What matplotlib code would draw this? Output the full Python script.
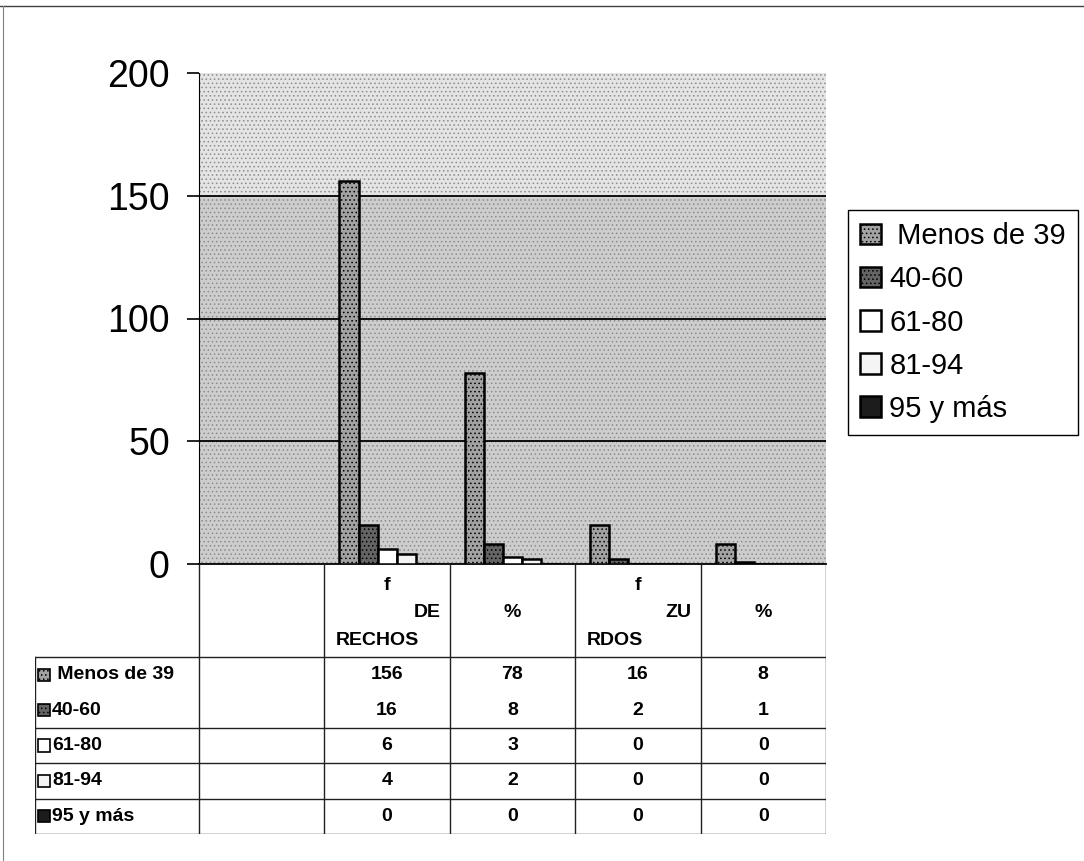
import numpy as np
import matplotlib.pyplot as plt
from matplotlib.patches import Rectangle
from matplotlib.lines import Line2D

plt.rcParams['font.family'] = ['Liberation Sans', 'DejaVu Sans']
plt.rcParams['hatch.linewidth'] = 0.6

# Data
categories = ["", "f DERECHOS", "%", "f ZURDOS", "%"]
header_parts = [None, ("f", "DE", "RECHOS"), "%", ("f", "ZU", "RDOS"), "%"]
series_names = [" Menos de 39", "40-60", "61-80", "81-94", "95 y más"]
menos_39 = [np.nan, 156, 78, 16, 8]
de_40_60 = [np.nan, 16, 8, 2, 1]
de_61_80 = [np.nan, 6, 3, 0, 0]
de_81_94 = [np.nan, 4, 2, 0, 0]
de_95_mas = [np.nan, 0, 0, 0, 0]
values = [menos_39, de_40_60, de_61_80, de_81_94, de_95_mas]
y_ticks = [0, 50, 100, 150, 200]

face_colors = ['#a2a2a2', '#646464', '#ffffff', '#f4f4f4', '#1c1c1c']
hatches = ['....', '....', None, None, None]

W, H = 1084, 861
fig = plt.figure(figsize=(W / 100, H / 100), dpi=100)


def fx(px):
    return px / W


def fy(py):
    return 1 - py / H


# Chart area
ax = fig.add_axes([fx(199), fy(564), fx(826) - fx(199), fy(73) - fy(564)])
n_cat = len(categories)
x = np.arange(n_cat)
bw = 0.152
for i, (name, vals) in enumerate(zip(series_names, values)):
    ax.bar(x + (i - 2) * bw, vals, bw, color=face_colors[i], edgecolor='black',
           linewidth=1.8, hatch=hatches[i], label=name, zorder=3)

ax.set_xlim(-0.5, n_cat - 0.5)
ax.set_ylim(0, 200)
ax.set_yticks(y_ticks)
ax.set_xticks([])
ax.tick_params(axis='y', labelsize=27, length=9, width=1.2, pad=12)
ax.set_facecolor('#cdcdcd')
ax.add_patch(Rectangle((-0.5, 0), n_cat, 200, facecolor='none', edgecolor='#8c8c8c',
                       hatch='....', linewidth=0, zorder=0.5))
ax.axhspan(150, 200, color='#e4e4e4', zorder=0.4)
for t in y_ticks[1:-1]:
    ax.axhline(t, color='black', linewidth=1.3, zorder=2)
for s in ['top', 'right']:
    ax.spines[s].set_visible(False)
ax.spines['left'].set_linewidth(0.8)
ax.spines['bottom'].set_linewidth(1.3)

# Data table
lab_w = (199 - 35) / ((826 - 199) / n_cat)
header_h = 93 / 35.4
n_rows = len(series_names)
tab = fig.add_axes([fx(35), fy(834), fx(826) - fx(35), fy(564) - fy(834)])
tab.set_xlim(-0.5 - lab_w, n_cat - 0.5)
tab.set_ylim(header_h + n_rows, 0)
tab.axis('off')
left = -0.5 - lab_w
right = n_cat - 0.5
lc = '#202020'
for k in range(n_cat + 1):
    tab.plot([-0.5 + k, -0.5 + k], [0, header_h + n_rows], color=lc, lw=1.0)
tab.plot([left, left], [header_h, header_h + n_rows], color=lc, lw=1.0)
for r in [0, 2, 3, 4, 5]:
    tab.plot([left, right], [header_h + r, header_h + r], color=lc, lw=1.0)

fs = 14
for j, part in enumerate(header_parts):
    if part is None:
        continue
    if isinstance(part, tuple):
        tab.text(j, 0.6, part[0], ha='center', va='center', fontsize=fs, fontweight='bold')
        tab.text(j + 0.43, 1.37, part[1], ha='right', va='center', fontsize=fs, fontweight='bold')
        tab.text(j - 0.41, 2.15, part[2], ha='left', va='center', fontsize=fs, fontweight='bold')
    else:
        tab.text(j, 1.37, part, ha='center', va='center', fontsize=fs, fontweight='bold')

for i, (name, vals) in enumerate(zip(series_names, values)):
    yc = header_h + i + 0.5
    tab.add_patch(Rectangle((left + 0.02, yc - 0.17), 0.1, 0.34, facecolor=face_colors[i],
                            edgecolor='black', linewidth=1.2, hatch=hatches[i]))
    tab.text(left + 0.135, yc, name, ha='left', va='center', fontsize=fs, fontweight='bold')
    for j, v in enumerate(vals):
        if np.isnan(v):
            continue
        tab.text(j, yc, f"{v:g}", ha='center', va='center', fontsize=fs, fontweight='bold')

# Legend
leg = fig.legend(loc='upper left', bbox_to_anchor=(fx(848), fy(210)), fontsize=21,
                 frameon=True, fancybox=False, edgecolor='black', framealpha=1,
                 handlelength=0.7, handleheight=0.7, handletextpad=0.3,
                 labelspacing=0.52, borderpad=0.42, borderaxespad=0)
leg.get_frame().set_linewidth(1.0)

# Outer frame
fig.add_artist(Line2D([0, 1], [fy(6), fy(6)], color='#404040', lw=1.0))
fig.add_artist(Line2D([fx(3), fx(3)], [0, fy(6)], color='#808080', lw=0.8))

fig.savefig('out.png', dpi=100)
